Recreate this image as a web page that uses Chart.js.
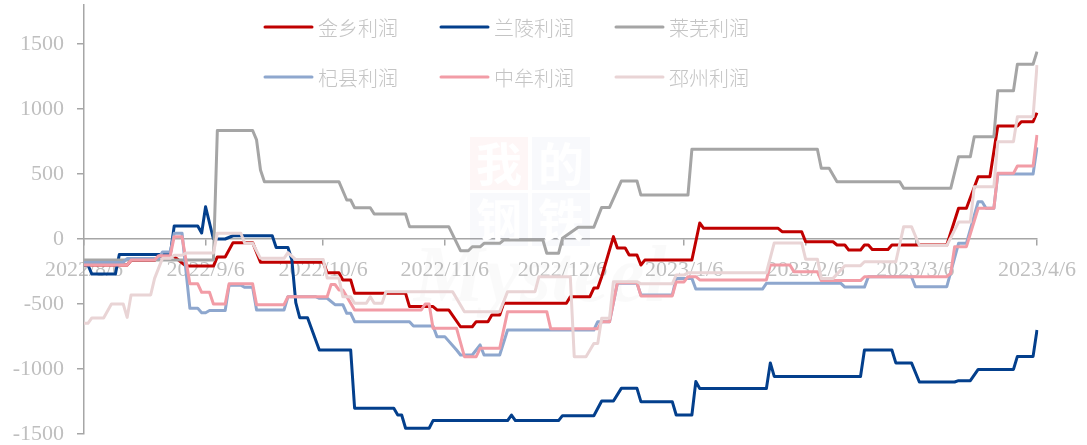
<!DOCTYPE html>
<html lang="zh">
<head>
<meta charset="UTF-8">
<title>各地利润走势</title>
<script src="https://cdn.jsdelivr.net/npm/chart.js"></script>
<style>
  body { margin: 0; background: #fff; }
  #wrap { width: 1087px; height: 445px; }
</style>
</head>
<body>
<div id="wrap"><canvas id="lirun" width="1087" height="445"></canvas></div>
<script>
// 横轴刻度
const tickLabels = ['2022/8/6', '2022/9/6', '2022/10/6', '2022/11/6', '2022/12/6',
                    '2023/1/6', '2023/2/6', '2023/3/6', '2023/4/6'];
const yTicks = [-1500, -1000, -500, 0, 500, 1000, 1500];

// [从2022/8/6起的第几天, 利润]，数值保持到下一段; null = 当天无报价
const jinxiang = [[0,-200],[12,-165],[19,-135],[24,null],[26,-208],[34,-138],[37,null],[38,-28],[44,null],[45,-178],
  [62,-260],[66,-315],[69,-418],[83,-520],[90,-546],[94,null],[96,-675],[100,-636],[104,-585],[107,-495],
  [124,-444],[130,-377],[132,-290],[133,null],[135,18],[136,-69],[139,-123],[142,-200],[143,-162],[156,null],
  [157,123],[158,82],[178,56],[184,-21],[192,-46],[195,-85],[199,-46],[201,-80],[206,-46],[221,null],
  [223,236],[226,null],[228,479],[232,null],[233,869],[239,902],[243,971]];
const lanling = [[0,-200],[2,-270],[9,-120],[23,100],[30,46],[31,248],[32,null],[33,0],[37,null],[38,25],
  [49,-65],[53,-160],[54,-490],[55,-605],[58,null],[60,-854],[69,-1302],[80,-1354],[82,-1456],[89,-1397],
  [109,-1354],[110,-1397],[122,-1359],[131,null],[132,-1246],[136,null],[137,-1149],[142,-1251],[151,-1354],
  [156,-1097],[157,-1150],[175,-953],[176,-1057],[199,-854],[207,-953],[212,null],[213,-1100],[223,-1090],
  [227,null],[228,-1003],[238,-903],[243,-700]];
const laiwu = [[0,-162],[34,835],[44,762],[45,531],[46,441],[66,null],[67,300],[69,240],[74,192],[83,95],
  [94,null],[96,-90],[99,-60],[102,-33],[107,-8],[118,-110],[122,5],[123,null],[126,90],[131,null],[132,243],
  [135,null],[137,446],[142,338],[155,690],[188,544],[191,null],[192,441],[209,390],[222,null],[223,633],
  [227,787],[233,1141],[238,1344],[243,1441]];
const qixian = [[0,-180],[11,-150],[20,-100],[23,44],[26,null],[27,-533],[30,-567],[32,-550],[37,-356],[41,-372],
  [44,-546],[52,-444],[60,-456],[63,null],[64,-505],[67,-572],[69,-636],[84,-669],[90,-751],[93,null],[95,-854],
  [96,-892],[100,null],[101,-815],[102,-892],[107,null],[108,-700],[131,-636],[135,null],[136,-341],[142,-431],
  [151,-303],[156,-385],[174,-341],[194,-370],[200,-290],[212,-367],[221,null],[223,-33],[226,null],[228,287],
  [230,236],[233,500],[243,705]];
const zhongmou = [[0,-200],[12,-162],[19,-128],[23,18],[26,null],[27,-345],[30,-410],[33,-500],[37,-345],[44,-505],
  [52,-444],[63,-350],[65,-392],[67,null],[68,-495],[69,-546],[87,-500],[89,-687],[96,null],[97,-905],[101,-841],
  [107,null],[108,-559],[119,-690],[132,-636],[135,null],[136,-336],[142,-438],[151,-330],[154,-290],[157,-315],
  [175,-200],[181,-251],[188,-320],[199,-290],[221,-264],[222,-59],[226,null],[228,236],[233,505],[238,561],
  [243,800]];
const pizhou = [[0,-649],[2,-607],[6,null],[7,-500],[11,-603],[12,-431],[18,-303],[19,null],[20,-149],[23,-125],
  [26,-108],[34,44],[41,-33],[44,null],[45,-149],[52,-105],[53,null],[54,-158],[62,-300],[66,-444],[69,-495],
  [73,-444],[74,-495],[77,-405],[95,null],[97,-559],[107,null],[108,-405],[116,-290],[125,-905],[129,null],
  [130,-803],[132,-610],[135,-328],[142,-345],[151,-277],[154,-259],[175,null],[176,-30],[184,-155],[188,-303],
  [192,null],[194,-205],[199,-175],[208,null],[209,95],[212,null],[213,-50],[221,null],[223,130],[227,402],
  [233,749],[238,941],[243,1338]];

const seriesNames = ['金乡利润', '兰陵利润', '莱芜利润', '杞县利润', '中牟利润', '邳州利润'];
const seriesSteps = [jinxiang, lanling, laiwu, qixian, zhongmou, pizhou];
const seriesColors = ['#C00000', '#033F8C', '#A5A5A5', '#8EA7CE', '#F29CA6', '#E9D4D5'];

// 日期轴（逐日）
const dayLabels = [];
for (let t = Date.UTC(2022, 7, 6); t <= Date.UTC(2023, 3, 6); t += 86400000) {
  const d = new Date(t);
  dayLabels.push(d.getUTCFullYear() + '/' + (d.getUTCMonth() + 1) + '/' + d.getUTCDate());
}
const tickIdx = tickLabels.map(l => dayLabels.indexOf(l));

function expand(steps) {
  const out = new Array(dayLabels.length).fill(null);
  steps.forEach(([from, v], i) => {
    const to = i + 1 < steps.length ? steps[i + 1][0] : from + 1;
    for (let d = from; d < to; d++) out[d] = v;
  });
  return out;
}

const grey = '#A6A6A6';
const labelGrey = '#BFBFBF';

// 图例：两行三列，压在绘图区上方
const legendPlugin = {
  id: 'legend2x3',
  afterDraw(chart) {
    const ctx = chart.ctx;
    const cols = [265, 441, 616], rows = [27, 77];
    ctx.save();
    ctx.font = '300 20px "Noto Sans CJK SC"';
    ctx.textBaseline = 'middle';
    chart.data.datasets.forEach((ds, i) => {
      const x = cols[i % 3], y = rows[Math.floor(i / 3)];
      ctx.strokeStyle = ds.borderColor;
      ctx.lineWidth = 3;
      ctx.lineCap = 'round';
      ctx.beginPath();
      ctx.moveTo(x, y);
      ctx.lineTo(x + 47, y);
      ctx.stroke();
      ctx.fillStyle = '#C4C4C4';
      ctx.fillText(ds.label, x + 53, y + 1);
    });
    ctx.restore();
  }
};

// 水印
const watermark = {
  id: 'watermark',
  beforeDatasetsDraw(chart) {
    const ctx = chart.ctx;
    ctx.save();
    const boxes = [['我', 470, 137, 'rgba(230,80,80,0.05)'], ['的', 532, 137, 'rgba(70,100,170,0.04)'],
                   ['钢', 470, 193, 'rgba(70,100,170,0.04)'], ['铁', 532, 193, 'rgba(70,100,170,0.04)']];
    ctx.textAlign = 'center';
    ctx.textBaseline = 'middle';
    ctx.font = 'bold 46px "Noto Sans CJK SC"';
    boxes.forEach(([ch, x, y, c]) => {
      ctx.fillStyle = c;
      ctx.fillRect(x, y, 58, 53);
      ctx.fillStyle = '#fff';
      ctx.fillText(ch, x + 29, y + 27);
    });
    ctx.fillStyle = 'rgba(0,0,0,0.02)';
    ctx.font = 'italic bold 80px "Liberation Serif"';
    ctx.fillText('Mysteel', 540, 280);
    ctx.restore();
  }
};

new Chart(document.getElementById('lirun'), {
  type: 'line',
  data: {
    labels: dayLabels,
    datasets: seriesNames.map((name, i) => ({
      label: name,
      data: expand(seriesSteps[i]),
      borderColor: seriesColors[i],
      backgroundColor: seriesColors[i],
      borderWidth: 3,
      pointRadius: 0,
      tension: 0,
      spanGaps: true,
      borderJoinStyle: 'round',
      order: seriesNames.length - i
    }))
  },
  options: {
    responsive: false,
    animation: false,
    devicePixelRatio: 1,
    layout: { padding: { top: 5, bottom: 11, left: 0, right: 50 } },
    plugins: { legend: { display: false }, tooltip: { enabled: false } },
    scales: {
      x: {
        type: 'category',
        position: { y: 0 },
        offset: false,
        afterBuildTicks: s => { s.ticks = tickIdx.map(v => ({ value: v })); },
        afterFit: s => { s.height = 0; s.paddingLeft = 0; s.paddingRight = 0; },
        grid: { drawOnChartArea: false, drawTicks: true, tickLength: 6, color: grey, lineWidth: 1.5 },
        border: { display: true, color: grey, width: 1.5 },
        ticks: {
          autoSkip: false, maxRotation: 0, minRotation: 0, padding: 12,
          color: labelGrey, font: { family: 'Liberation Serif', size: 22 }
        }
      },
      y: {
        min: -1500,
        max: 1800,
        afterBuildTicks: s => { s.ticks = yTicks.map(v => ({ value: v })); },
        afterFit: s => { s.width = 84; s.paddingTop = 0; s.paddingBottom = 0; },
        grid: { drawOnChartArea: false, drawTicks: true, tickLength: 7, color: grey, lineWidth: 1.5 },
        border: { display: true, color: grey, width: 1.5 },
        ticks: {
          padding: 13, color: labelGrey, font: { family: 'Liberation Serif', size: 22 },
          callback: v => String(v)
        }
      }
    }
  },
  plugins: [watermark, legendPlugin]
});
</script>
</body>
</html>
